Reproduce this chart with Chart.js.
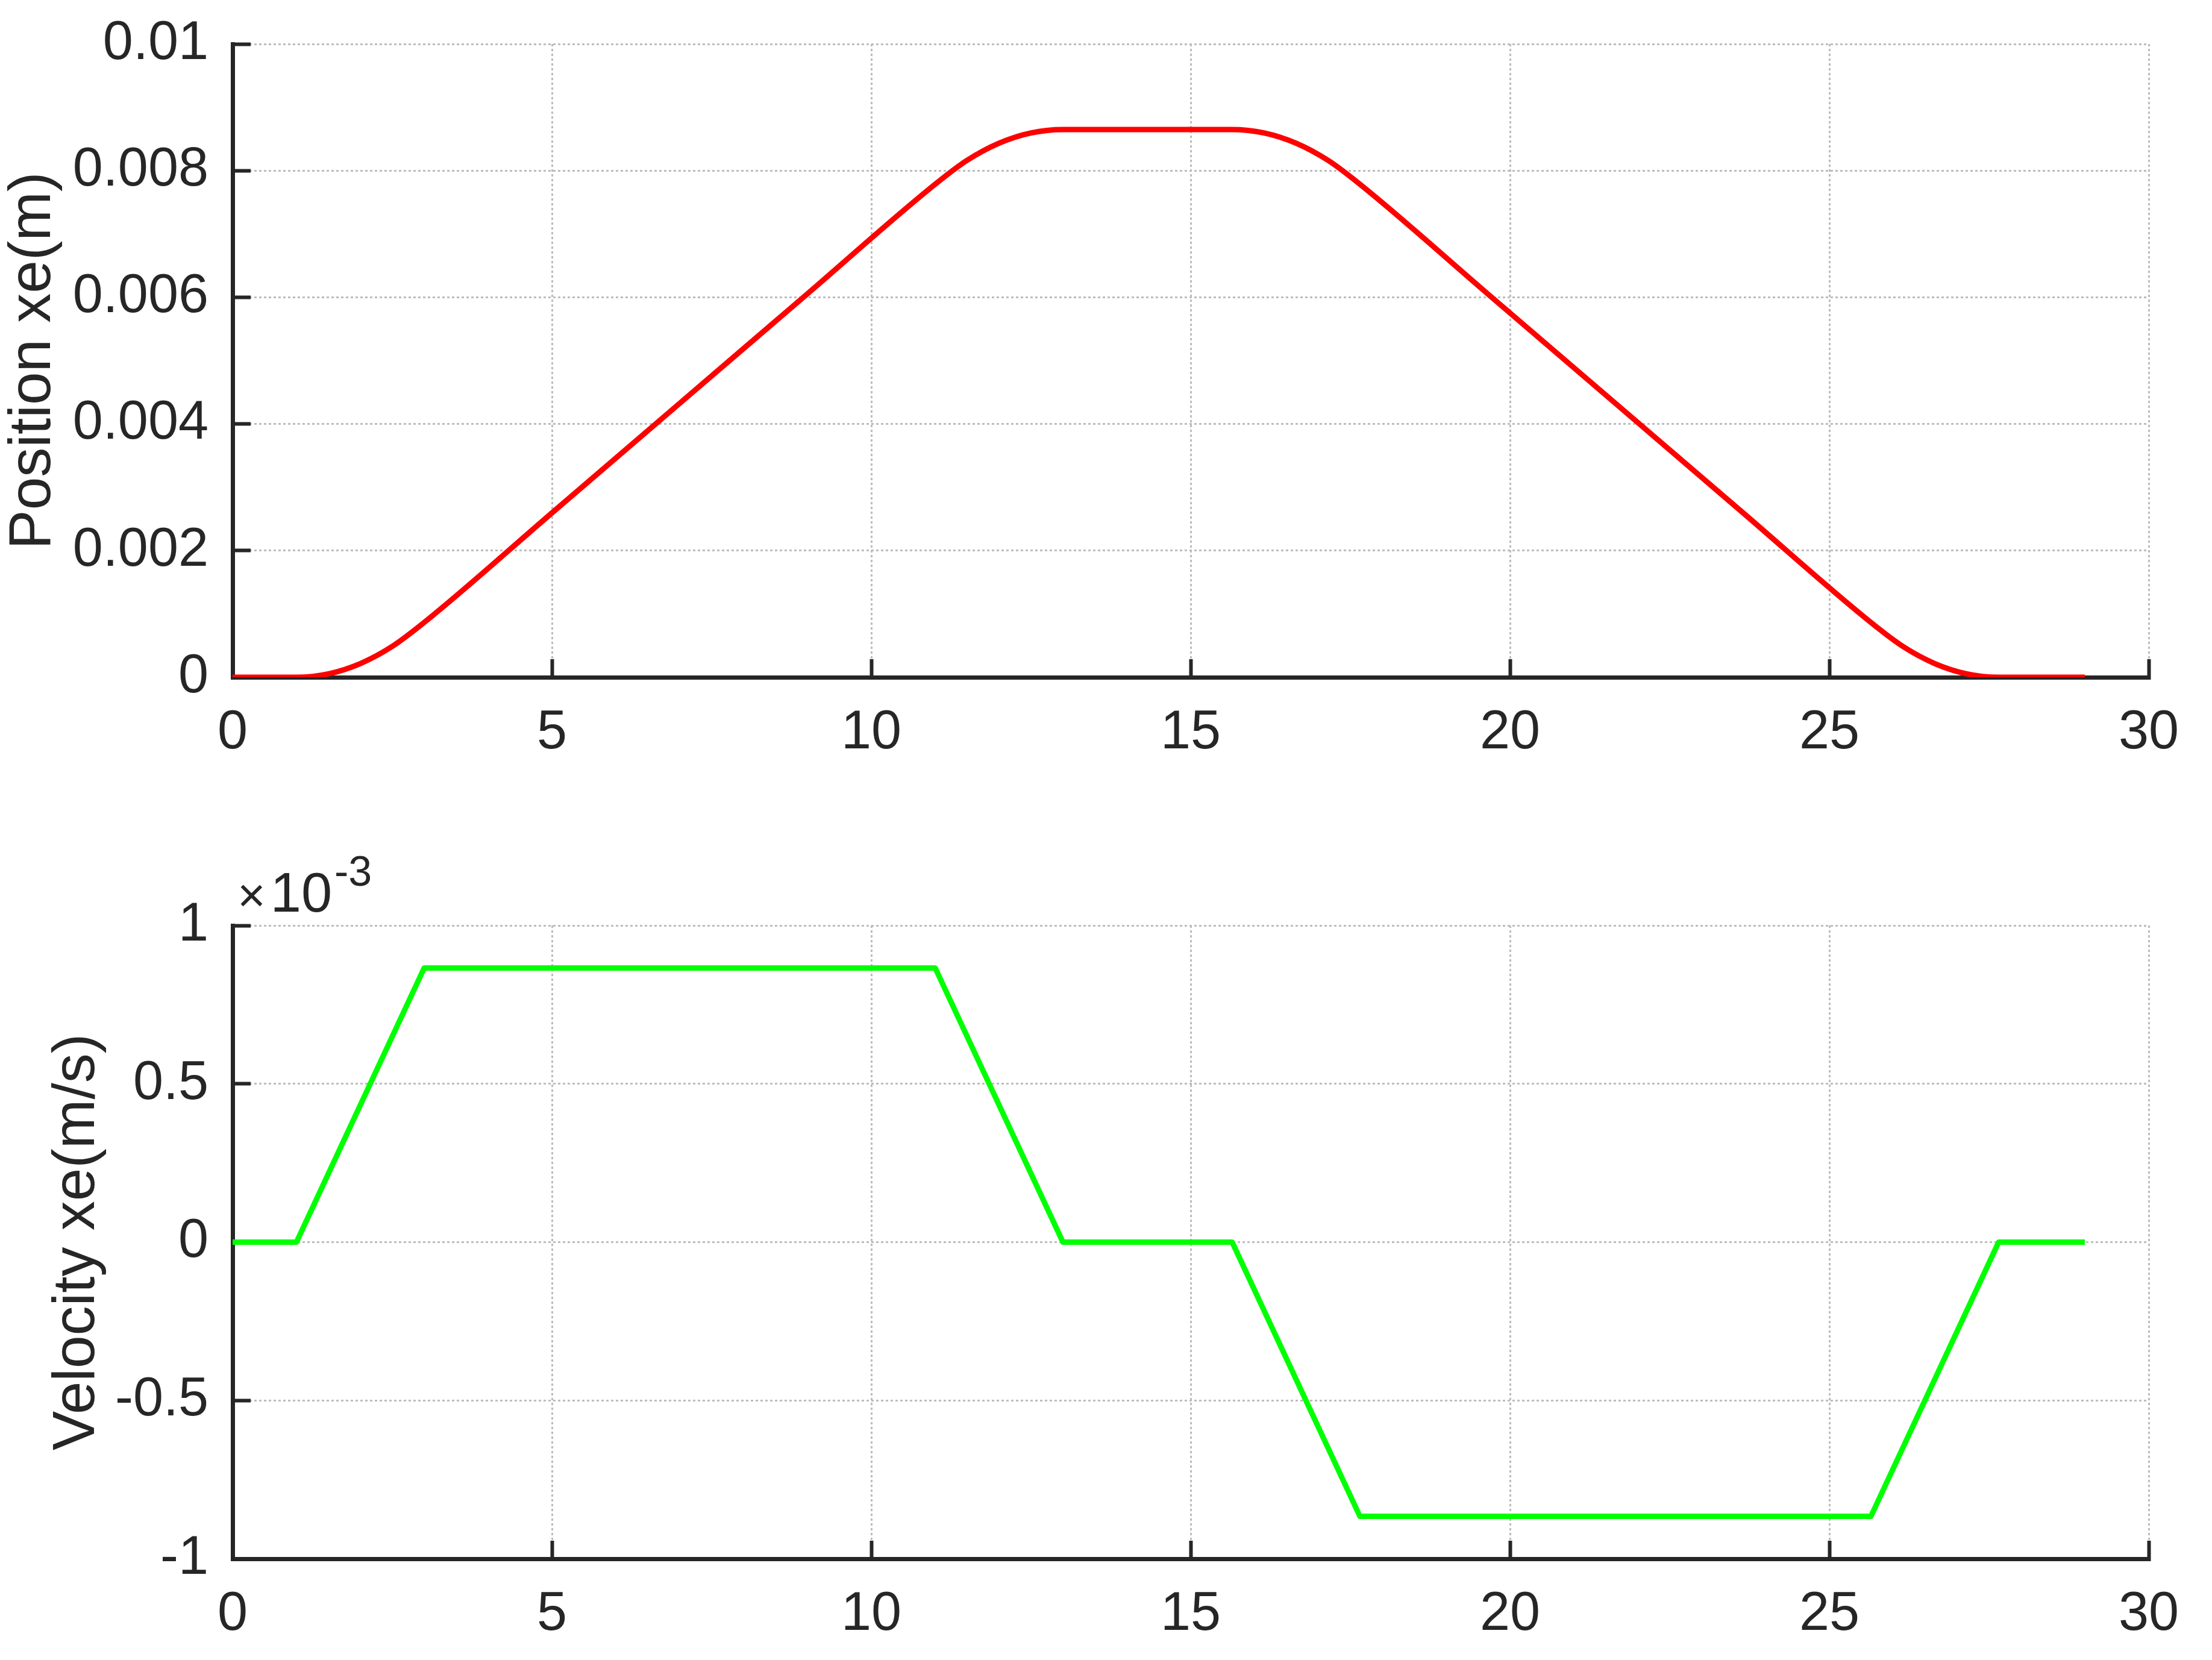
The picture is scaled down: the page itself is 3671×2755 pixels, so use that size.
<!DOCTYPE html>
<html>
<head>
<meta charset="utf-8">
<script src="https://cdn.jsdelivr.net/npm/chart.js@4.4.0/dist/chart.umd.min.js"></script>
<style>
  html, body { margin: 0; padding: 0; background: #fff; }
  #wrap { position: relative; width: 3671px; height: 2755px; }
  canvas { position: absolute; left: 0; }
</style>
</head>
<body>
<div id="wrap">
  <canvas id="posChart" width="3671" height="1377" style="top:0"></canvas>
  <canvas id="velChart" width="3671" height="1378" style="top:1377px"></canvas>
</div>
<script>
// ------------------------------ values ------------------------------
const timeTicks = [0, 5, 10, 15, 20, 25, 30];

// top panel - position (m)
const posTime = [0, 1, 1.5, 2, 2.5, 3, 5, 7, 9, 11, 11.5, 12, 12.5, 13,
  15.65, 16.15, 16.65, 17.15, 17.65, 19.65, 21.65, 23.65, 25.65, 26.15, 26.65, 27.15, 27.65, 29];
const posValues = [0, 0, 0.000054, 0.000216, 0.000487, 0.000865, 0.002595, 0.004325, 0.006055, 0.007785,
  0.008163, 0.008434, 0.008596, 0.00865, 0.00865, 0.008596, 0.008434, 0.008163, 0.007785,
  0.006055, 0.004325, 0.002595, 0.000865, 0.000487, 0.000216, 0.000054, 0, 0];
const posTicks = [0, 0.002, 0.004, 0.006, 0.008, 0.01];
const posTickLabels = ['0', '0.002', '0.004', '0.006', '0.008', '0.01'];

// bottom panel - velocity (m/s)
const velTime = [0, 1, 3, 11, 13, 15.65, 17.65, 25.65, 27.65, 29];
const velValues = [0, 0, 0.000866, 0.000866, 0, 0, -0.000866, -0.000866, 0, 0];
const velTicks = [-0.001, -0.0005, 0, 0.0005, 0.001];
const velTickLabels = ['-1', '-0.5', '0', '0.5', '1'];
const velExponent = '-3';

// ------------------------------ shared look ------------------------------
const FONT = '"Liberation Sans", Arial, Helvetica, sans-serif';
const INK = '#262626';
const GRID = '#bdbdbd';

function toPoints(xs, ys) {
  return xs.map((x, i) => ({ x: x, y: ys[i] }));
}

function fixedTicks(values) {
  return function (scale) {
    scale.ticks = values.map(v => ({ value: v }));
  };
}

const gridOpts = { color: GRID, lineWidth: 3, tickLength: -30, tickColor: INK, tickWidth: 6 };
const borderOpts = { color: INK, width: 7, dash: [4, 4] };

// x10^-3 note above the velocity axis
const exponentLabel = {
  id: 'exponentLabel',
  afterDraw(chart) {
    const { ctx, chartArea } = chart;
    ctx.save();
    ctx.fillStyle = INK;
    ctx.textBaseline = 'alphabetic';
    ctx.font = '80px ' + FONT;
    ctx.fillText('\u00d7', chartArea.left + 8, chartArea.top - 23);
    let x = chartArea.left + 8 + ctx.measureText('\u00d7').width + 8;
    ctx.font = '92px ' + FONT;
    ctx.fillText('10', x, chartArea.top - 23);
    x += ctx.measureText('10').width + 4;
    ctx.font = '70px ' + FONT;
    ctx.fillText(velExponent, x, chartArea.top - 66);
    ctx.restore();
  }
};

function buildChart(id, cfg) {
  return new Chart(document.getElementById(id), {
    type: 'line',
    data: {
      datasets: [{
        data: toPoints(cfg.xs, cfg.ys),
        borderColor: cfg.color,
        borderWidth: 9,
        pointRadius: 0,
        fill: false,
        cubicInterpolationMode: cfg.smooth ? 'monotone' : 'default',
        borderJoinStyle: 'round'
      }]
    },
    options: {
      responsive: false,
      animation: false,
      events: [],
      layout: { padding: { left: 0, top: cfg.top, right: 105, bottom: 0 } },
      plugins: { legend: { display: false }, tooltip: { enabled: false } },
      scales: {
        x: {
          type: 'linear', min: 0, max: 30,
          afterBuildTicks: fixedTicks(timeTicks),
          afterFit: s => { s.height = cfg.xAxisH; s.paddingLeft = 0; s.paddingRight = 0; },
          grid: gridOpts,
          border: borderOpts,
          ticks: { padding: 69, color: INK, maxRotation: 0, font: { family: FONT, size: 90 }, callback: v => String(v) }
        },
        y: {
          type: 'linear', min: cfg.yMin, max: cfg.yMax,
          afterBuildTicks: fixedTicks(cfg.yTicks),
          afterFit: s => { s.width = 386; s.paddingTop = 0; s.paddingBottom = 0; },
          grid: gridOpts,
          border: borderOpts,
          ticks: { padding: 70, color: INK, font: { family: FONT, size: 90 }, callback: (v, i) => cfg.yLabels[i] },
          title: { display: true, text: cfg.title, color: INK, font: { family: FONT, size: 98 }, padding: { top: cfg.titlePad, bottom: 0 } }
        }
      }
    },
    plugins: cfg.plugins || []
  });
}

buildChart('posChart', {
  xs: posTime, ys: posValues, color: '#ff0000', smooth: true,
  top: 73, xAxisH: 253,
  yMin: 0, yMax: 0.01, yTicks: posTicks, yLabels: posTickLabels,
  title: 'Position xe(m)', titlePad: -3
});

buildChart('velChart', {
  xs: velTime, ys: velValues, color: '#00ff00', smooth: false,
  top: 159, xAxisH: 168,
  yMin: -0.001, yMax: 0.001, yTicks: velTicks, yLabels: velTickLabels,
  title: 'Velocity xe(m/s)', titlePad: 70,
  plugins: [exponentLabel]
});
</script>
</body>
</html>
